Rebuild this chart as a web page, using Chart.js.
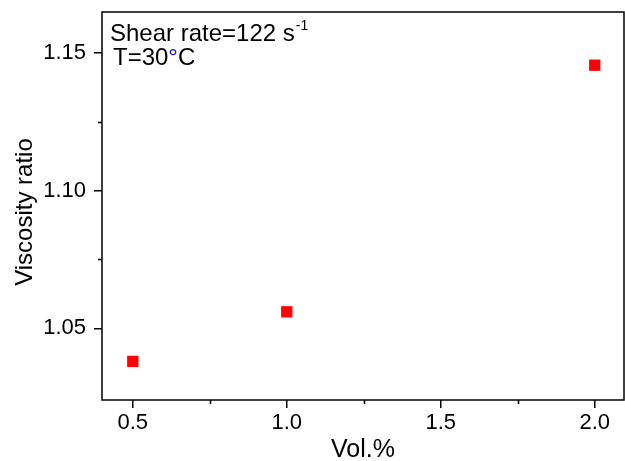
<!DOCTYPE html>
<html>
<head>
<meta charset="utf-8">
<script src="https://cdn.jsdelivr.net/npm/chart.js@4.4.1/dist/chart.umd.min.js"></script>
<style>
    html, body { margin: 0; padding: 0; background: #fff; }
    canvas { display: block; }
</style>
</head>
<body>
<canvas id="viscosityChart" width="625" height="461"></canvas>
<script>
// Data
const volPercent = [0.5, 1.0, 2.0];
const viscosityRatio = [1.038, 1.056, 1.1455];
const xTickValues = [0.5, 1.0, 1.5, 2.0];
const xMinorTicks = [0.75, 1.25, 1.75];
const yTickValues = [1.05, 1.10, 1.15];
const yMinorTicks = [1.075, 1.125];

const FONT = 'Arial, "Liberation Sans", sans-serif';
const PLOT_RIGHT = 624;

// Pin the plot's right edge (Chart.js reserves room for the last tick label)
const pinAreaPlugin = {
    id: 'pinArea',
    afterLayout(chart) {
        const xs = chart.scales.x;
        xs.right = PLOT_RIGHT;
        xs.width = PLOT_RIGHT - xs.left;
        xs.configure();
        chart.chartArea.right = PLOT_RIGHT;
        chart.chartArea.width = PLOT_RIGHT - chart.chartArea.left;
    }
};

// Frame, minor ticks, annotation and axis titles
const decorPlugin = {
    id: 'decor',
    afterDraw(chart) {
        const ctx = chart.ctx;
        const area = chart.chartArea;
        const xs = chart.scales.x;
        const ys = chart.scales.y;
        ctx.save();

        // box around plot
        ctx.strokeStyle = '#000';
        ctx.lineWidth = 1.5;
        ctx.strokeRect(area.left, area.top, area.right - area.left, area.bottom - area.top);

        // minor ticks
        ctx.beginPath();
        xMinorTicks.forEach(v => {
            const px = Math.round(xs.getPixelForValue(v)) + 0.5;
            ctx.moveTo(px, area.bottom);
            ctx.lineTo(px, area.bottom + 4);
        });
        yMinorTicks.forEach(v => {
            const py = Math.round(ys.getPixelForValue(v)) + 0.5;
            ctx.moveTo(area.left, py);
            ctx.lineTo(area.left - 4, py);
        });
        ctx.stroke();

        // annotation text
        ctx.fillStyle = '#000';
        ctx.textBaseline = 'alphabetic';
        ctx.textAlign = 'left';
        ctx.font = '24px ' + FONT;
        const line1 = 'Shear rate=122 s';
        ctx.fillText(line1, area.left + 8, 41);
        const w1 = ctx.measureText(line1).width;
        ctx.font = '14px ' + FONT;
        ctx.fillText('-1', area.left + 8 + w1 + 1, 30);

        ctx.font = '24px ' + FONT;
        let tx = area.left + 11;
        const parts = [['T=30', '#000'], ['\u00B0', '#0000ff'], ['C', '#000']];
        parts.forEach(([t, c]) => {
            ctx.fillStyle = c;
            ctx.fillText(t, tx, 65);
            tx += ctx.measureText(t).width;
        });

        // axis titles
        ctx.fillStyle = '#000';
        ctx.font = '25px ' + FONT;
        ctx.textAlign = 'center';
        ctx.fillText('Vol.%', (area.left + area.right) / 2, 457);

        ctx.font = '24px ' + FONT;
        ctx.translate(32, 212);
        ctx.rotate(-Math.PI / 2);
        ctx.fillText('Viscosity ratio', 0, 0);

        ctx.restore();
    }
};

const ctx = document.getElementById('viscosityChart').getContext('2d');
const chart = new Chart(ctx, {
    type: 'scatter',
    data: {
        datasets: [{
            label: 'Viscosity ratio',
            data: volPercent.map((v, i) => ({ x: v, y: viscosityRatio[i] })),
            backgroundColor: '#ff0000',
            borderColor: '#ff0000',
            borderWidth: 0,
            pointStyle: 'rect',
            pointRadius: 8,
            pointHoverRadius: 8
        }]
    },
    options: {
        responsive: false,
        animation: false,
        layout: {
            padding: { top: 12, right: 1, left: 0, bottom: 0 }
        },
        plugins: {
            legend: { display: false },
            tooltip: { enabled: false }
        },
        scales: {
            x: {
                type: 'linear',
                min: 0.4,
                max: 2.095,
                afterBuildTicks: scale => {
                    scale.ticks = xTickValues.map(v => ({ value: v }));
                },
                afterFit: scale => {
                    scale.height = 61;
                    scale.paddingLeft = 0;
                    scale.paddingRight = 0;
                },
                grid: {
                    drawOnChartArea: false,
                    drawTicks: true,
                    tickLength: 8,
                    color: '#000',
                    lineWidth: 1.5
                },
                border: { display: false },
                ticks: {
                    color: '#000',
                    padding: 2,
                    font: { family: FONT, size: 22 },
                    callback: v => v.toFixed(1)
                }
            },
            y: {
                type: 'linear',
                min: 1.024,
                max: 1.1648,
                afterBuildTicks: scale => {
                    scale.ticks = yTickValues.map(v => ({ value: v }));
                },
                afterFit: scale => {
                    scale.width = 102;
                    scale.paddingTop = 0;
                    scale.paddingBottom = 0;
                },
                grid: {
                    drawOnChartArea: false,
                    drawTicks: true,
                    tickLength: 8,
                    color: '#000',
                    lineWidth: 1.5
                },
                border: { display: false },
                ticks: {
                    color: '#000',
                    padding: 8,
                    font: { family: FONT, size: 22 },
                    callback: v => v.toFixed(2)
                }
            }
        }
    },
    plugins: [pinAreaPlugin, decorPlugin]
});
</script>
</body>
</html>
